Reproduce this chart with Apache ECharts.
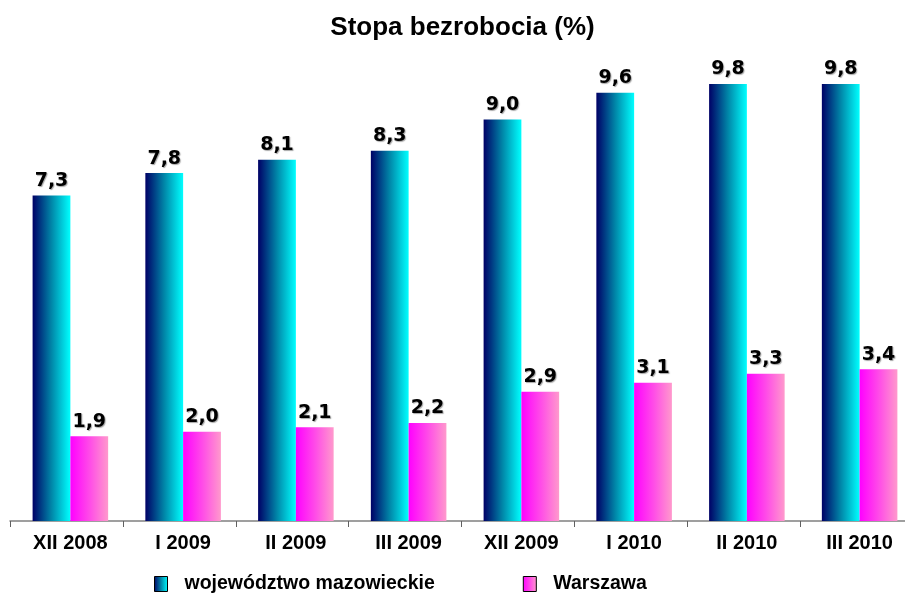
<!DOCTYPE html>
<html><head><meta charset="utf-8">
<script src="https://cdn.jsdelivr.net/npm/echarts@6/dist/echarts.min.js"></script>
<style>html,body{margin:0;padding:0;background:#fff;overflow:hidden}#c{width:925px;height:594px}</style>
</head><body><div id="c"></div>
<script>
const categories = ['XII 2008','I 2009','II 2009','III 2009','XII 2009','I 2010','II 2010','III 2010'];
const mazowieckie = [7.3,7.8,8.1,8.3,9.0,9.6,9.8,9.8];
const warszawa = [1.9,2.0,2.1,2.2,2.9,3.1,3.3,3.4];
const seriesNames = ['województwo mazowieckie','Warszawa'];

const chart = echarts.init(document.getElementById('c'), null, {renderer:'canvas'});
const blueGrad = new echarts.graphic.LinearGradient(0,0,1,0,[
  {offset:0,color:'#000066'},{offset:0.5,color:'#0086a8'},{offset:1,color:'#00ffff'}]);
const pinkGrad = new echarts.graphic.LinearGradient(0,0,1,0,[
  {offset:0,color:'#ff00ff'},{offset:0.5,color:'#ff4ae8'},{offset:1,color:'#ff99cc'}]);
const valLabel = {
  show:true, position:'top', distance:5,
  fontFamily:'DejaVu Sans', fontWeight:'bold', fontSize:19, color:'#000',
  textShadowColor:'rgba(0,0,0,0.35)', textShadowOffsetX:1, textShadowOffsetY:1, textShadowBlur:1,
  formatter: p => p.value.toFixed(1).replace('.', ',')
};
chart.setOption({
  animation:false,
  title:{text:'Stopa bezrobocia (%)', left:'center', top:10,
    textStyle:{fontFamily:'Liberation Sans', fontWeight:'bold', fontSize:26, color:'#000'}},
  legend:{
    data:seriesNames, left:154, top:574, padding:0, icon:'rect', itemWidth:13, itemHeight:15, itemGap:88,
    itemStyle:{borderColor:'#000', borderWidth:1},
    textStyle:{fontFamily:'Liberation Sans', fontWeight:'bold', fontSize:19.5, color:'#000', padding:[0,0,0,12]}
  },
  grid:[
    {left:10, right:12, top:75, bottom:73},
    {left:14, right:9, top:75, bottom:73}
  ],
  xAxis:[
    {type:'category', gridIndex:0, data:categories, boundaryGap:true,
      axisLine:{lineStyle:{color:'#808080', width:1.5}},
      axisTick:{show:true, length:6, lineStyle:{color:'#606060'}},
      axisLabel:{show:false}},
    {type:'category', gridIndex:1, data:categories, boundaryGap:true,
      axisLine:{show:false}, axisTick:{show:false},
      axisLabel:{margin:12, fontFamily:'Liberation Sans', fontWeight:'bold', fontSize:20, color:'#000', interval:0}}
  ],
  yAxis:[
    {type:'value', gridIndex:0, min:0, max:10, show:false, splitLine:{show:false}},
    {type:'value', gridIndex:1, min:0, max:10, show:false, splitLine:{show:false}}
  ],
  series:[
    {name:seriesNames[0], type:'bar', xAxisIndex:1, yAxisIndex:1, data:mazowieckie,
      barGap:'0%', barCategoryGap:'33%', itemStyle:{color:blueGrad}, label:valLabel},
    {name:seriesNames[1], type:'bar', xAxisIndex:1, yAxisIndex:1, data:warszawa,
      barGap:'0%', barCategoryGap:'33%', itemStyle:{color:pinkGrad}, label:valLabel}
  ]
});
</script></body></html>
